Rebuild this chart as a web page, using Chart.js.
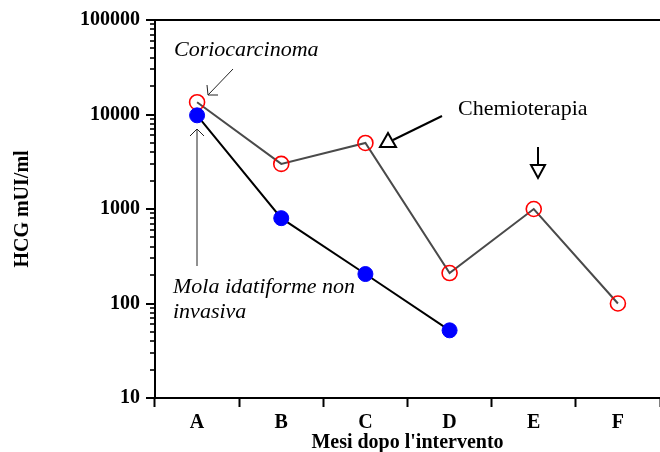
<!DOCTYPE html>
<html>
<head>
<meta charset="utf-8">
<script src="https://cdn.jsdelivr.net/npm/chart.js@4.4.1/dist/chart.umd.min.js"></script>
<style>
  body { margin: 0; background: #fff; }
  #wrap { width: 660px; height: 452px; }
</style>
</head>
<body>
<div id="wrap"><canvas id="myChart" width="660" height="452"></canvas></div>
<script>
var mesi = ["A", "B", "C", "D", "E", "F"];
var coriocarcinoma = [13500, 3000, 5000, 210, 1000, 100];
var mola = [9800, 800, 205, 52, null, null];
var decadi = [10, 100, 1000, 10000, 100000];

var serif = "'Liberation Serif', 'Times New Roman', serif";

// tick del log: 1..9 per ogni decade
var yTicks = [];
for (var d = 0; d < decadi.length - 1; d++) {
  for (var k = 1; k < 10; k++) yTicks.push(decadi[d] * k);
}
yTicks.push(decadi[decadi.length - 1]);

function isDecade(v) {
  return decadi.indexOf(v) >= 0;
}

var extras = {
  id: "extras",
  afterDraw: function (chart) {
    var c = chart.ctx;
    var a = chart.chartArea;
    var ys = chart.scales.y;
    c.save();
    c.strokeStyle = "#000";
    c.lineCap = "butt";

    // assi e bordo superiore
    c.lineWidth = 2;
    c.beginPath();
    c.moveTo(a.left, a.top);
    c.lineTo(a.left, a.bottom);
    c.moveTo(a.left - 9, a.bottom);
    c.lineTo(a.right, a.bottom);
    c.moveTo(a.left - 9, a.top);
    c.lineTo(a.right, a.top);
    c.stroke();

    // tick asse y
    ys.ticks.forEach(function (t) {
      var py = Math.round(ys.getPixelForValue(t.value));
      c.beginPath();
      if (isDecade(t.value)) {
        c.lineWidth = 2;
        c.moveTo(a.left - 9, py);
      } else {
        c.lineWidth = 1.6;
        c.moveTo(a.left - 5, py);
      }
      c.lineTo(a.left, py);
      c.stroke();
    });

    // freccia Coriocarcinoma
    c.strokeStyle = "#222";
    c.lineWidth = 1;
    c.beginPath();
    c.moveTo(233, 69);
    c.lineTo(208, 95);
    c.moveTo(207, 85);
    c.lineTo(208, 95);
    c.lineTo(218, 95);
    c.stroke();

    // freccia Mola
    c.beginPath();
    c.moveTo(197, 266);
    c.lineTo(197, 129);
    c.moveTo(190, 136);
    c.lineTo(197, 129);
    c.lineTo(204, 136);
    c.stroke();

    // Chemioterapia
    c.strokeStyle = "#000";
    c.lineWidth = 2;
    c.beginPath();
    c.moveTo(442, 116);
    c.lineTo(393, 140);
    c.stroke();
    c.beginPath();
    c.moveTo(380, 147);
    c.lineTo(396, 147);
    c.lineTo(388, 133);
    c.closePath();
    c.fillStyle = "#fff";
    c.fill();
    c.stroke();

    c.beginPath();
    c.moveTo(538, 147);
    c.lineTo(538, 165);
    c.stroke();
    c.beginPath();
    c.moveTo(531, 165);
    c.lineTo(545, 165);
    c.lineTo(538, 178);
    c.closePath();
    c.fill();
    c.stroke();

    // testi
    c.fillStyle = "#000";
    c.textBaseline = "middle";
    c.textAlign = "left";
    c.font = "italic 22px " + serif;
    c.fillText("Coriocarcinoma", 174, 50);
    c.fillText("Mola idatiforme non", 173, 287);
    c.fillText("invasiva", 173, 312);
    c.font = "22px " + serif;
    c.fillText("Chemioterapia", 458, 109);
    c.restore();
  }
};

var ctx = document.getElementById("myChart");

var myChart = new Chart(ctx, {
  type: "line",
  data: {
    labels: mesi,
    datasets: [
      {
        label: "Mola idatiforme non invasiva",
        data: mola,
        borderColor: "#000",
        borderWidth: 2,
        pointRadius: 7.5,
        pointBackgroundColor: "#0000ff",
        pointBorderColor: "#0000ff",
        pointBorderWidth: 1,
        fill: false,
        tension: 0
      },
      {
        label: "Coriocarcinoma",
        data: coriocarcinoma,
        borderColor: "#4a4a4a",
        borderWidth: 2,
        pointRadius: 7.5,
        pointBackgroundColor: "rgba(0,0,0,0)",
        pointBorderColor: "#ff0000",
        pointBorderWidth: 1.6,
        fill: false,
        tension: 0
      }
    ]
  },
  options: {
    responsive: false,
    animation: false,
    layout: { autoPadding: false, padding: { top: 20, left: 0, right: 0, bottom: 0 } },
    plugins: {
      legend: { display: false },
      tooltip: { enabled: false }
    },
    scales: {
      x: {
        type: "category",
        offset: true,
        border: { display: false },
        grid: {
          display: true,
          offset: true,
          drawOnChartArea: false,
          drawTicks: true,
          tickLength: 9,
          tickWidth: 2,
          tickColor: "#000"
        },
        ticks: {
          color: "#000",
          padding: 4,
          font: { family: serif, size: 20, weight: "bold" }
        },
        title: {
          display: true,
          text: "Mesi dopo l'intervento",
          color: "#000",
          padding: { top: 0, bottom: -3 },
          font: { family: serif, size: 20, weight: "bold" }
        },
        afterFit: function (s) {
          s.height = 54;
          s.paddingLeft = 0;
          s.paddingRight = 0;
        }
      },
      y: {
        type: "logarithmic",
        min: 10,
        max: 100000,
        border: { display: false },
        grid: { display: false, drawTicks: false },
        afterBuildTicks: function (s) {
          s.ticks = yTicks.map(function (v) {
            return { value: v, major: isDecade(v) };
          });
        },
        ticks: {
          autoSkip: false,
          color: "#000",
          padding: 15,
          font: { family: serif, size: 20, weight: "bold" },
          callback: function (v) {
            return isDecade(v) ? String(v) : "";
          }
        },
        title: {
          display: true,
          text: "HCG mUI/ml",
          color: "#000",
          padding: { top: 11, bottom: 0 },
          font: { family: serif, size: 20, weight: "bold" }
        },
        afterFit: function (s) {
          s.width = 155;
          s.paddingTop = 0;
          s.paddingBottom = 0;
        }
      }
    }
  },
  plugins: [extras]
});
</script>
</body>
</html>
